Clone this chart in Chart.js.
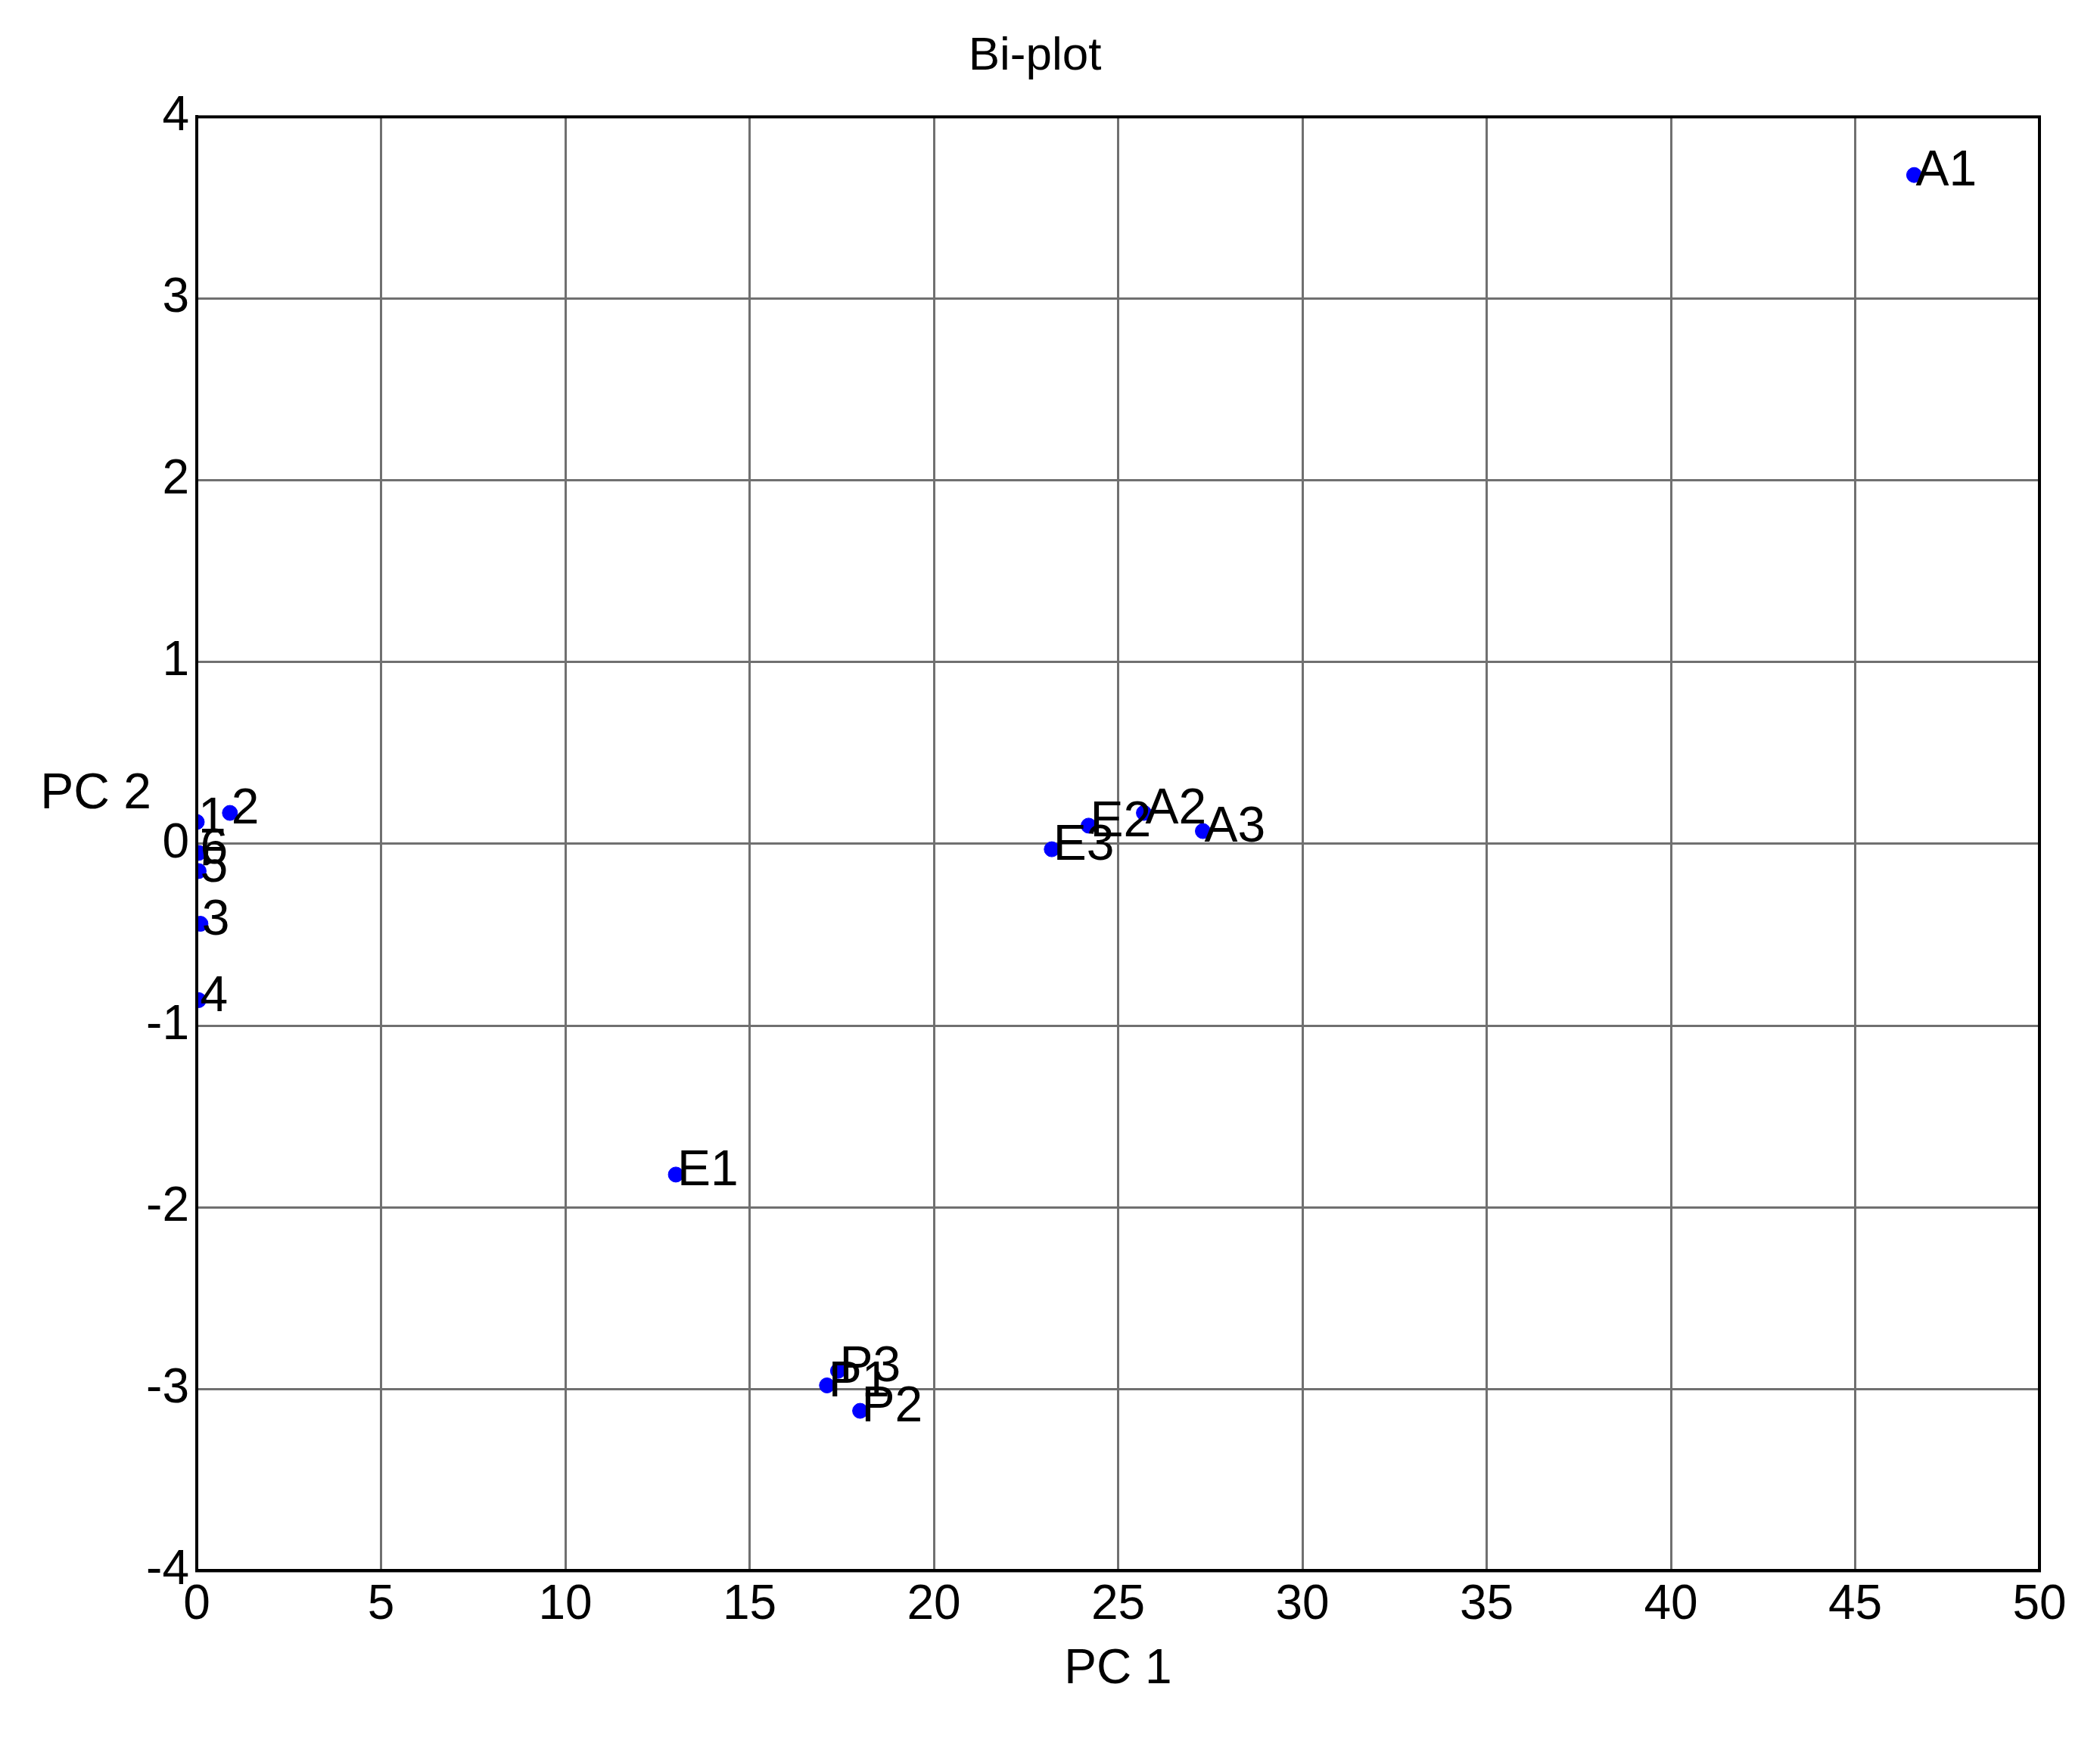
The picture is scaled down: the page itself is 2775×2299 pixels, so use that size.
<!DOCTYPE html>
<html>
<head>
<meta charset="utf-8">
<script src="https://cdn.jsdelivr.net/npm/chart.js@4"></script>
<style>
  html, body { margin: 0; padding: 0; background: #fff; }
  #wrap { width: 2775px; height: 2299px; }
</style>
</head>
<body>
<div id="wrap"><canvas id="biplot"></canvas></div>
<script>
// point labels and PC scores
const pointLabels = ['A1', 'A2', 'A3', 'E2', 'E3', 'E1', 'P1', 'P3', 'P2', '1', '2', '6', '5', '3', '4'];
const pc1Values = [46.6, 25.7, 27.3, 24.2, 23.2, 13.0, 17.1, 17.4, 18.0, 0.0, 0.9, 0.05, 0.05, 0.1, 0.05];
const pc2Values = [3.68, 0.17, 0.07, 0.10, -0.03, -1.82, -2.98, -2.90, -3.12, 0.12, 0.17, -0.05, -0.15, -0.44, -0.86];

const xTicks = [0, 5, 10, 15, 20, 25, 30, 35, 40, 45, 50];
const yTicks = [-4, -3, -2, -1, 0, 1, 2, 3, 4];

const FONT = 'Arial, "Liberation Sans", sans-serif';

const points = pc1Values.map((x, i) => ({ x: x, y: pc2Values[i] }));

// draws the text next to each point, plus the horizontal "PC 2" label
const labelPlugin = {
    id: 'labels',
    afterDatasetsDraw(chart) {
        const ctx = chart.ctx;
        const xs = chart.scales.x;
        const ys = chart.scales.y;
        ctx.save();
        ctx.fillStyle = '#000';
        ctx.font = '66px ' + FONT;
        ctx.textBaseline = 'middle';
        ctx.textAlign = 'left';
        points.forEach((p, i) => {
            ctx.fillText(pointLabels[i], xs.getPixelForValue(p.x) + 2, ys.getPixelForValue(p.y) - 4);
        });
        ctx.textAlign = 'right';
        ctx.fillText('PC 2', xs.left - 60, ys.getPixelForValue(0.27));
        ctx.restore();
    }
};

new Chart(document.getElementById('biplot'), {
    type: 'scatter',
    data: {
        datasets: [{
            data: points,
            backgroundColor: '#0000ff',
            borderColor: '#0000ff',
            pointRadius: 10,
            pointHoverRadius: 10
        }]
    },
    options: {
        responsive: true,
        maintainAspectRatio: false,
        animation: false,
        layout: { padding: { top: 10, right: 80, bottom: 50, left: 40 } },
        plugins: {
            legend: { display: false },
            tooltip: { enabled: false },
            title: {
                display: true,
                text: 'Bi-plot',
                color: '#000',
                font: { family: FONT, size: 62, weight: 'normal' },
                padding: { top: 28, bottom: 42 }
            }
        },
        scales: {
            x: {
                type: 'linear',
                min: 0,
                max: 50,
                afterBuildTicks: axis => { axis.ticks = xTicks.map(v => ({ value: v })); },
                grid: { color: '#707070', lineWidth: 3, drawTicks: false },
                border: { color: '#000', width: 4 },
                ticks: { color: '#000', font: { family: FONT, size: 64 }, padding: 8 },
                title: {
                    display: true,
                    text: 'PC 1',
                    color: '#000',
                    font: { family: FONT, size: 64 },
                    padding: { top: 0 }
                }
            },
            y: {
                type: 'linear',
                min: -4,
                max: 4,
                afterBuildTicks: axis => { axis.ticks = yTicks.map(v => ({ value: v })); },
                grid: { color: '#707070', lineWidth: 3, drawTicks: false },
                border: { color: '#000', width: 4 },
                ticks: { color: '#000', font: { family: FONT, size: 64 }, padding: 10 },
                afterFit: axis => { axis.width = 220; }
            }
        }
    },
    plugins: [labelPlugin, {
        id: 'frame',
        afterDraw(chart) {
            const a = chart.chartArea;
            const ctx = chart.ctx;
            ctx.save();
            ctx.strokeStyle = '#000';
            ctx.lineWidth = 4;
            ctx.strokeRect(a.left, a.top, a.right - a.left, a.bottom - a.top);
            ctx.restore();
        }
    }]
});
</script>
</body>
</html>
